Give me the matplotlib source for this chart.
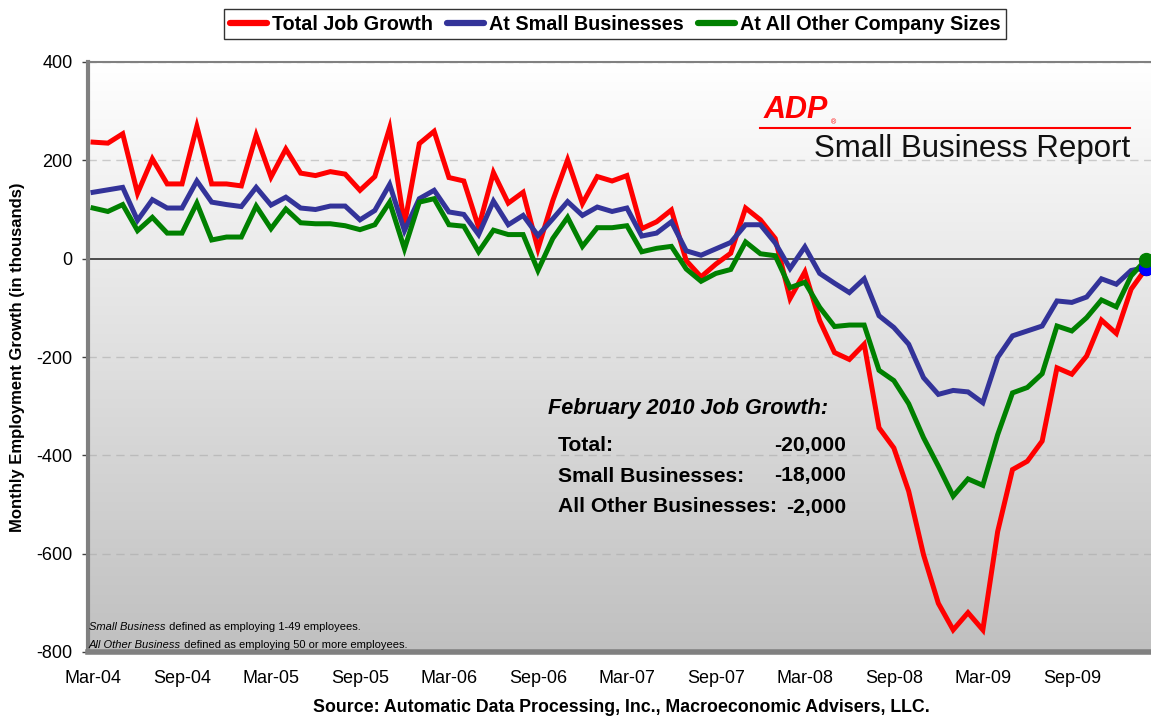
import matplotlib
matplotlib.use('Agg')
import matplotlib.pyplot as plt
import numpy as np
from matplotlib.lines import Line2D
from matplotlib.colors import LinearSegmentedColormap

plt.rcParams['font.family'] = ['Liberation Sans', 'DejaVu Sans']

# ---------------- data (thousands of jobs, Mar-04 .. Feb-10) ----------------
total_growth = [237, 235, 254, 133, 203, 152, 152, 269, 152, 152, 148, 251,
                166, 223, 174, 169, 177, 172, 139, 167, 266, 70, 234, 259,
                165, 158, 64, 175, 113, 135, 20, 118, 201, 112, 167, 158,
                169, 61, 75, 99, -4, -37, -11, 11, 103, 79, 41, -81,
                -27, -126, -191, -205, -174, -344, -385, -473, -602, -701, -755, -720,
                -755, -555, -429, -412, -371, -222, -235, -198, -125, -152, -62, -20]
small_business = [135, 140, 145, 78, 120, 103, 103, 158, 115, 110, 106, 145,
                  109, 125, 103, 100, 107, 107, 79, 98, 151, 57, 122, 139,
                  95, 90, 49, 117, 69, 88, 47, 81, 116, 88, 105, 96,
                  103, 46, 52, 75, 16, 7, 20, 33, 69, 69, 32, -20,
                  24, -30, -50, -69, -41, -116, -140, -174, -242, -276, -268, -271,
                  -293, -201, -157, -147, -137, -86, -89, -78, -41, -52, -24, -18]
other_sizes = [103, 96, 110, 57, 84, 52, 52, 113, 38, 44, 44, 107,
               61, 101, 73, 71, 71, 67, 59, 69, 115, 20, 115, 122,
               69, 66, 14, 58, 49, 49, -24, 41, 84, 25, 63, 63,
               67, 14, 21, 25, -21, -46, -30, -22, 34, 10, 6, -59,
               -48, -99, -138, -135, -135, -227, -248, -295, -364, -422, -483, -448,
               -461, -358, -273, -262, -234, -137, -147, -120, -84, -98, -35, -2]
tick_labels = ['Mar-04', 'Sep-04', 'Mar-05', 'Sep-05', 'Mar-06', 'Sep-06',
               'Mar-07', 'Sep-07', 'Mar-08', 'Sep-08', 'Mar-09', 'Sep-09']
series_names = ['Total Job Growth', 'At Small Businesses', 'At All Other Company Sizes']
summary_labels = ['Total:', 'Small Businesses:', 'All Other Businesses:']
summary_values = ['-20,000', '-18,000', '-2,000']

# ---------------- figure ----------------
W, H = 1151, 717
fig = plt.figure(figsize=(W / 100, H / 100), dpi=100)
fig.patch.set_facecolor('white')

def fx(px):
    return px / W

def fy(py):
    return 1 - py / H

ax = fig.add_axes([fx(88), fy(652), (W - 88) / W, 590 / H])
x = np.arange(len(total_growth))
xlo, xhi = -0.34, 71.34
ymin, ymax = -800, 400

# gradient background
cmap = LinearSegmentedColormap.from_list('bg', ['#c0c0c0', '#ffffff'])
grad = np.linspace(1, 0, 256).reshape(-1, 1)
ax.imshow(grad, extent=[xlo, xhi, ymin, ymax], aspect='auto', cmap=cmap,
          zorder=0, vmin=0, vmax=1)

for gy in [400, 200, -200, -400, -600]:
    ax.axhline(gy, color='#a8a8a8', lw=1, ls=(0, (6, 4)), alpha=0.55, zorder=1)
ax.axhline(0, color='#303030', lw=1.2, zorder=2)

colors = ['#ff0000', '#333399', '#008000']
for ser, c in zip([total_growth, small_business, other_sizes], colors):
    ax.plot(x, ser, color=c, lw=3.6, zorder=3, solid_joinstyle='miter')

# end markers
ax.plot(x[-1], total_growth[-1], 'o', color='black', ms=10, zorder=5, clip_on=False)
ax.plot(x[-1], small_business[-1], 'o', color='#0000ff', ms=10, zorder=6, clip_on=False)
ax.plot(x[-1], other_sizes[-1], 'o', color='#008000', ms=10, zorder=7, clip_on=False)

ax.set_xlim(xlo, xhi)
ax.set_ylim(ymin, ymax)
ax.set_yticks(range(-800, 401, 200))
ax.set_yticklabels([str(v) for v in range(-800, 401, 200)])
ax.set_xticks(x[::6])
ax.set_xticklabels(tick_labels)
ax.tick_params(axis='y', labelsize=13, length=4, width=1, color='#404040', pad=7)
ax.tick_params(axis='x', labelsize=13, length=0, pad=13)

for s in ['left', 'bottom', 'top']:
    ax.spines[s].set_color('#808080')
ax.spines['left'].set_linewidth(3)
ax.spines['bottom'].set_linewidth(4)
ax.spines['top'].set_linewidth(1.5)
ax.spines['right'].set_visible(False)

# axis label and source
fig.text(fx(18), fy(357), 'Monthly Employment Growth (in thousands)', rotation=90,
         ha='center', va='center', fontsize=12, fontweight='bold')
fig.text(fx(621), fy(708), 'Source: Automatic Data Processing, Inc., Macroeconomic Advisers, LLC.',
         ha='center', va='center', fontsize=12.8, fontweight='bold')

# legend
handles = [Line2D([], [], color=c, lw=4.5, solid_capstyle='round') for c in colors]
leg = fig.legend(handles, series_names, loc='center', bbox_to_anchor=(fx(615), fy(24)),
                 ncol=3, frameon=True, fancybox=False, edgecolor='black',
                 handlelength=1.9, handletextpad=0.25, columnspacing=0.7,
                 borderpad=0.3, prop={'weight': 'bold', 'size': 14.2})
leg.get_frame().set_linewidth(1.0)

# ADP logo and report title
fig.text(fx(764), fy(110), 'ADP', color='#ff0000', fontsize=22, fontweight='bold',
         fontstyle='italic', ha='left', va='center')
fig.text(fx(831), fy(123), '®', color='#ff0000', fontsize=5, ha='left', va='center')
fig.add_artist(Line2D([fx(760), fx(1130)], [fy(128), fy(128)], color='#ff0000', lw=1.5))
fig.text(fx(814), fy(149), 'Small Business Report', fontsize=22.5, ha='left', va='center',
         color='#111111')

# summary block
fig.text(fx(548), fy(408), 'February 2010 Job Growth:', fontsize=15.6, fontweight='bold',
         fontstyle='italic', ha='left', va='center')
for i, (lab, val) in enumerate(zip(summary_labels, summary_values)):
    yy = [446, 476, 507][i]
    fig.text(fx(558), fy(yy), lab, fontsize=15.2, fontweight='bold', ha='left', va='center')
    fig.text(fx(846), fy(yy), val, fontsize=15.2, fontweight='bold', ha='right', va='center')

# footnotes
t1 = fig.text(fx(89), fy(627), 'Small Business', fontsize=8, fontstyle='italic',
              ha='left', va='center')
ax.annotate(' defined as employing 1-49 employees.', xy=(1, 0), xycoords=t1,
            ha='left', va='bottom', fontsize=8)
t2 = fig.text(fx(89), fy(645), 'All Other Business', fontsize=8, fontstyle='italic',
              ha='left', va='center')
ax.annotate(' defined as employing 50 or more employees.', xy=(1, 0), xycoords=t2,
            ha='left', va='bottom', fontsize=8)

fig.savefig('out.png', dpi=100)
